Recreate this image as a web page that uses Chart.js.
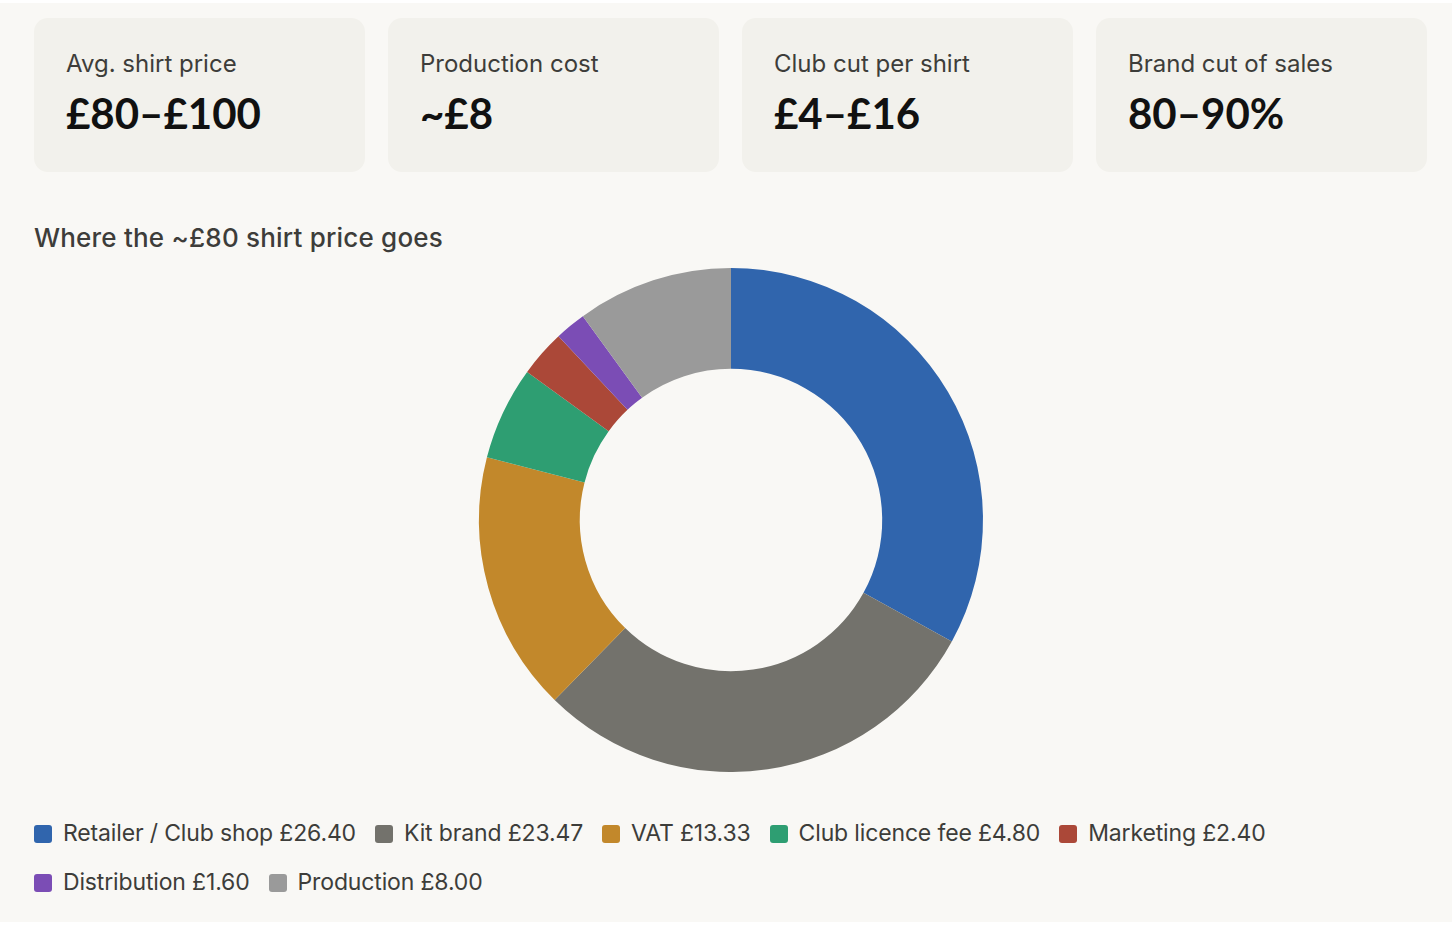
<!DOCTYPE html>
<html>
<head>
<meta charset="utf-8">
<script src="https://cdn.jsdelivr.net/npm/chart.js@4.4.1/dist/chart.umd.min.js"></script>
<style>
  html, body { margin: 0; padding: 0; background: #ffffff; }
  .page {
    position: absolute; left: 0; top: 3px; width: 1452px; height: 919px;
    background: #f9f8f5; font-family: Inter, "Noto Sans", sans-serif; color: #3d3d3a;
  }
  .cards { position: absolute; left: 34px; top: 15px; display: flex; gap: 23px; }
  .card {
    width: 331px; height: 154px; box-sizing: border-box; padding: 32px 32px;
    background: #f2f1ec; border-radius: 14px;
  }
  .card .lbl { font-size: 24px; line-height: 28px; color: #3d3d3a; }
  .card .val { font-family: Lato, sans-serif; font-size: 42px; font-weight: 700; line-height: 50px; margin-top: 10px; color: #111; }
  .title { position: absolute; left: 34px; top: 219px; font-size: 26px; font-weight: 500; letter-spacing: 0.2px; color: #3d3d3a; }
  .chartbox { position: absolute; left: 34px; top: 265px; width: 1394px; height: 504px; }
  .legend { position: absolute; left: 34px; top: 816px; width: 1350px; display: flex; flex-wrap: wrap; row-gap: 20px; }
  .legend .item { display: flex; align-items: center; margin-right: 19px; font-size: 23px; line-height: 29px; letter-spacing: -0.15px; color: #3d3d3a; }
  .legend .sw { width: 18px; height: 18px; border-radius: 3px; margin-right: 11px; }
</style>
</head>
<body>
<div class="page">
  <div class="cards" id="cards"></div>
  <div class="title">Where the ~£80 shirt price goes</div>
  <div class="chartbox"><canvas id="split"></canvas></div>
  <div class="legend" id="legend"></div>
</div>
<script>
// Headline figures
var cardLabels = ["Avg. shirt price", "Production cost", "Club cut per shirt", "Brand cut of sales"];
var cardValues = ["£80–£100", "~£8", "£4–£16", "80–90%"];

// Where the money goes
var parts = ["Retailer / Club shop", "Kit brand", "VAT", "Club licence fee", "Marketing", "Distribution", "Production"];
var amounts = [26.40, 23.47, 13.33, 4.80, 2.40, 1.60, 8.00];
var colours = ["#3065ad", "#73726c", "#c2882b", "#2e9e72", "#ab4838", "#7b4db5", "#9a9a9a"];

var cardsEl = document.getElementById('cards');
cardLabels.forEach(function (l, i) {
    var c = document.createElement('div');
    c.className = 'card';
    c.innerHTML = '<div class="lbl">' + l + '</div><div class="val">' + cardValues[i] + '</div>';
    cardsEl.appendChild(c);
});

var legendEl = document.getElementById('legend');
parts.forEach(function (p, i) {
    var it = document.createElement('div');
    it.className = 'item';
    it.innerHTML = '<span class="sw" style="background:' + colours[i] + '"></span>' + p + ' £' + amounts[i].toFixed(2);
    legendEl.appendChild(it);
});

var ctx = document.getElementById('split').getContext('2d');
new Chart(ctx, {
    type: 'doughnut',
    data: {
        labels: parts,
        datasets: [{
            data: amounts,
            backgroundColor: colours,
            borderWidth: 0
        }]
    },
    options: {
        responsive: true,
        maintainAspectRatio: false,
        animation: false,
        cutout: '60%',
        layout: { padding: 0 },
        plugins: {
            legend: { display: false },
            tooltip: { enabled: true }
        }
    }
});
</script>
</body>
</html>
